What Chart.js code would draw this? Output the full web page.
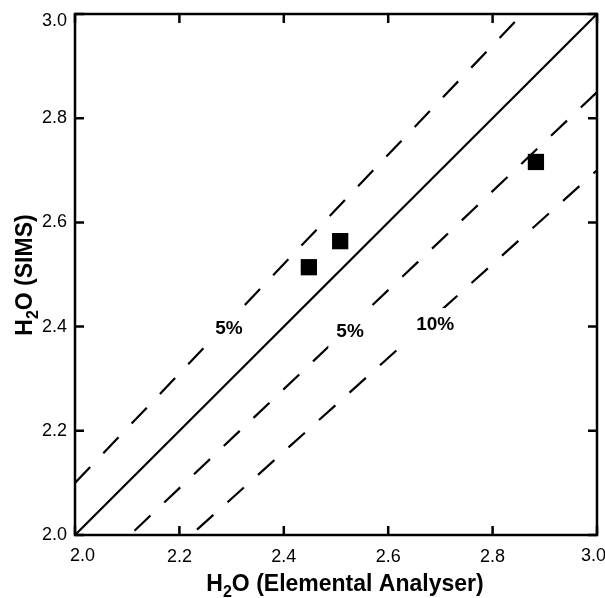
<!DOCTYPE html>
<html>
<head>
<meta charset="utf-8">
<script src="https://cdn.jsdelivr.net/npm/chart.js@4.4.0/dist/chart.umd.min.js"></script>
<style>
  html, body { margin: 0; padding: 0; background: #ffffff; }
  #chart { display: block; }
</style>
</head>
<body>
<canvas id="chart" width="605" height="598"></canvas>
<script>
// samples: H2O by elemental analyser (x) vs SIMS (y)
const sampleX = [2.448, 2.508, 2.883];
const sampleY = [2.514, 2.564, 2.716];

// reference lines, endpoints at x = 2.0 and x = 3.0
const lineX = [2.0, 3.0];
const onePerOne = [2.0, 3.0];
const plus5 = [2.1, 3.15];
const minus5 = [1.9, 2.85];
const minus10 = [1.8, 2.7];

// tick labels on both axes
const tickValues = [2.0, 2.2, 2.4, 2.6, 2.8, 3.0];

// percentage labels
const pctText = ['5%', '5%', '10%'];
const pctX = [2.295, 2.527, 2.690];
const pctY = [2.395, 2.390, 2.403];

const FONT = '"Liberation Sans", Arial, Helvetica, sans-serif';
const fmt = (v) => Number(v).toFixed(1);

const toPts = (xs, ys) => xs.map((x, i) => ({ x, y: ys[i] }));

function refLine(ys, dashed) {
  return {
    type: 'line',
    data: toPts(lineX, ys),
    borderColor: '#000000',
    borderWidth: 2.2,
    borderDash: dashed ? [22, 19] : [],
    pointRadius: 0,
    fill: false,
    tension: 0,
  };
}

// text with a subscript "2" after the leading H
function drawH2O(ctx, rest, size) {
  const sub = Math.round(size * 0.7);
  ctx.font = `bold ${size}px ${FONT}`;
  const wH = ctx.measureText('H').width;
  const wR = ctx.measureText('O' + rest).width;
  ctx.font = `bold ${sub}px ${FONT}`;
  const w2 = ctx.measureText('2').width;
  let x = -(wH + w2 + wR) / 2;
  ctx.textAlign = 'left';
  ctx.textBaseline = 'alphabetic';
  ctx.font = `bold ${size}px ${FONT}`;
  ctx.fillText('H', x, 0);
  x += wH;
  ctx.font = `bold ${sub}px ${FONT}`;
  ctx.fillText('2', x, size * 0.28);
  x += w2;
  ctx.font = `bold ${size}px ${FONT}`;
  ctx.fillText('O' + rest, x, 0);
}

const framePlugin = {
  id: 'frame',
  afterDatasetsDraw(chart) {
    const { ctx, chartArea: a, scales } = chart;
    ctx.save();

    // percentage labels sit in a break of their dashed line
    ctx.font = `bold 19px ${FONT}`;
    ctx.textAlign = 'center';
    ctx.textBaseline = 'middle';
    pctText.forEach((t, i) => {
      const px = scales.x.getPixelForValue(pctX[i]);
      const py = scales.y.getPixelForValue(pctY[i]);
      const w = ctx.measureText(t).width;
      ctx.fillStyle = '#ffffff';
      ctx.fillRect(px - w / 2 - 8, py - 17, w + 16, 34);
      ctx.fillStyle = '#000000';
      ctx.fillText(t, px, py);
    });

    ctx.strokeStyle = '#000000';
    ctx.lineWidth = 2.5;
    ctx.strokeRect(a.left, a.top, a.right - a.left, a.bottom - a.top);
    const tl = 9;
    ctx.beginPath();
    tickValues.forEach((v) => {
      const px = scales.x.getPixelForValue(v);
      const py = scales.y.getPixelForValue(v);
      ctx.moveTo(px, a.bottom); ctx.lineTo(px, a.bottom - tl);
      ctx.moveTo(px, a.top); ctx.lineTo(px, a.top + tl);
      ctx.moveTo(a.left, py); ctx.lineTo(a.left + tl, py);
      ctx.moveTo(a.right, py); ctx.lineTo(a.right - tl, py);
    });
    ctx.stroke();

    // edge tick labels, pulled inside the canvas
    ctx.fillStyle = '#000000';
    ctx.font = `18px ${FONT}`;
    ctx.textBaseline = 'middle';
    ctx.textAlign = 'left';
    ctx.fillText(fmt(tickValues[0]), a.left - 5, 556);
    ctx.textAlign = 'right';
    ctx.fillText(fmt(tickValues[tickValues.length - 1]), 606, 556);
    ctx.fillText(fmt(tickValues[tickValues.length - 1]), a.left - 8, a.top + 7);

    // axis titles
    ctx.save();
    ctx.translate(345, 591);
    drawH2O(ctx, ' (Elemental Analyser)', 23);
    ctx.restore();

    ctx.save();
    ctx.translate(32, 275);
    ctx.rotate(-Math.PI / 2);
    drawH2O(ctx, ' (SIMS)', 23);
    ctx.restore();

    ctx.restore();
  }
};

const first = tickValues[0];
const last = tickValues[tickValues.length - 1];

new Chart(document.getElementById('chart'), {
  type: 'scatter',
  data: {
    datasets: [
      {
        data: toPts(sampleX, sampleY),
        pointStyle: 'rect',
        pointRadius: 11.5,
        pointBackgroundColor: '#000000',
        pointBorderWidth: 0,
      },
      refLine(onePerOne, false),
      refLine(plus5, true),
      refLine(minus5, true),
      refLine(minus10, true),
    ],
  },
  options: {
    responsive: false,
    animation: false,
    devicePixelRatio: 1,
    // autoPadding off: the big square markers would otherwise shrink the plot box
    layout: { autoPadding: false, padding: { top: 14, right: 8, left: 0, bottom: 0 } },
    plugins: {
      legend: { display: false },
      tooltip: { enabled: false },
    },
    scales: {
      x: {
        type: 'linear',
        min: first,
        max: last,
        afterBuildTicks: (s) => { s.ticks = tickValues.map((v) => ({ value: v })); },
        afterFit: (s) => { s.height = 63; s.paddingLeft = 0; s.paddingRight = 0; },
        grid: { display: false, drawTicks: false },
        border: { display: false },
        ticks: {
          color: '#000000',
          padding: 11,
          maxRotation: 0,
          autoSkip: false,
          font: { family: FONT, size: 18 },
          callback: (v) => (v === first || v === last ? '' : fmt(v)),
        },
      },
      y: {
        type: 'linear',
        min: first,
        max: last,
        afterBuildTicks: (s) => { s.ticks = tickValues.map((v) => ({ value: v })); },
        afterFit: (s) => { s.width = 75; s.paddingTop = 0; s.paddingBottom = 0; },
        grid: { display: false, drawTicks: false },
        border: { display: false },
        ticks: {
          color: '#000000',
          padding: 8,
          autoSkip: false,
          font: { family: FONT, size: 18 },
          callback: (v) => (v === last ? '' : fmt(v)),
        },
      },
    },
  },
  plugins: [framePlugin],
});
</script>
</body>
</html>
